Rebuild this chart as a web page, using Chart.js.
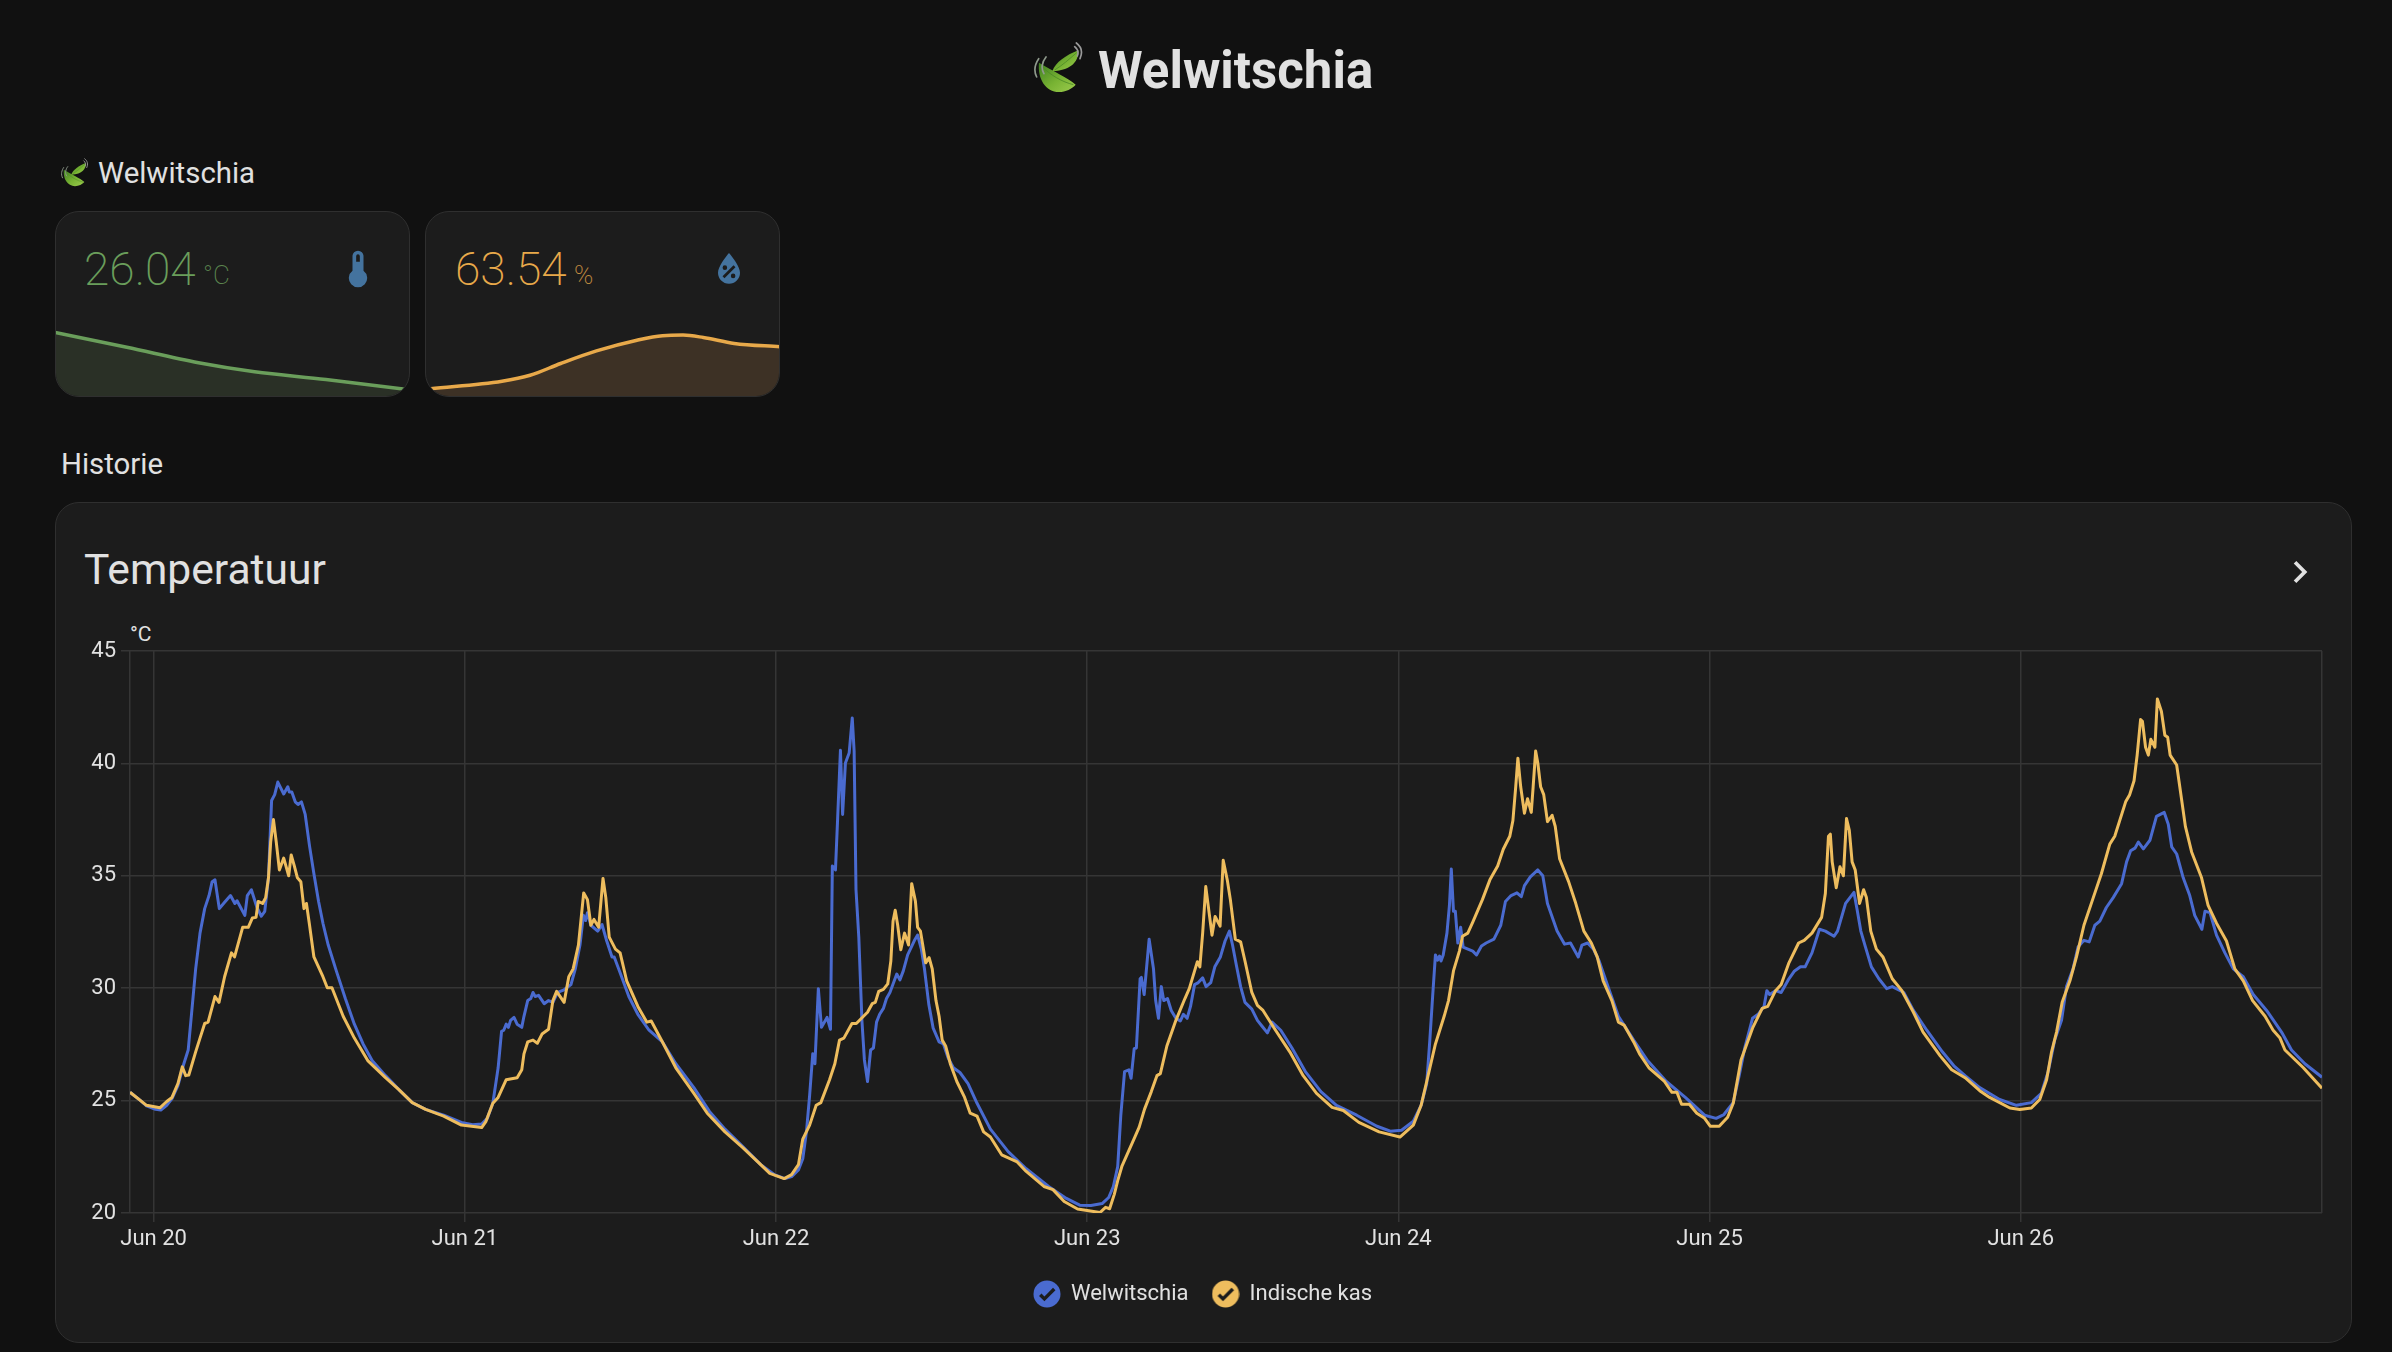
<!DOCTYPE html>
<html>
<head>
<meta charset="utf-8">
<title>Welwitschia</title>
<script src="https://cdn.jsdelivr.net/npm/chart.js@4"></script>
<style>
  html, body { margin: 0; padding: 0; width: 2392px; height: 1352px; overflow: hidden; background: #111111; }
  body { font-family: Roboto, sans-serif; color: #e1e1e1; position: relative; }
  .abs { position: absolute; white-space: nowrap; }
  .card { position: absolute; background: #1c1c1c; border: 1.5px solid #2f2f2f; border-radius: 24px; box-sizing: border-box; overflow: hidden; }
  canvas { display: block; }
</style>
</head>
<body>
<svg width="0" height="0" style="position:absolute">
  <defs>
    <linearGradient id="leafGreen" x1="0" y1="0" x2="1" y2="1">
      <stop offset="0" stop-color="#3f7f22"/>
      <stop offset="0.55" stop-color="#78b333"/>
      <stop offset="1" stop-color="#9ccb4e"/>
    </linearGradient>
    <symbol id="leaves" viewBox="0 0 150 153">
      <path d="M15 62C10 110 35 150 75 150C95 150 115 140 125 128C100 105 60 90 15 62Z" fill="url(#leafGreen)"/>
      <path d="M55 88C65 60 95 40 133 25C135 55 115 85 55 88Z" fill="url(#leafGreen)"/>
      <path d="M22 72C50 100 85 120 118 128M62 84C85 70 105 52 128 32" fill="none" stroke="#4d8a28" stroke-width="2.5"/>
      <path d="M8 105C-2 85 4 65 14 50M30 95C20 80 24 60 36 45" fill="none" stroke="#8f9a8c" stroke-width="5" stroke-linecap="round"/>
      <path d="M127 3C143 15 146 32 138 50M122 14C132 22 134 32 130 42" fill="none" stroke="#9a9a9a" stroke-width="5" stroke-linecap="round"/>
    </symbol>
  </defs>
</svg>

<svg class="abs" style="left:1034px;top:42px" width="50" height="51"><use href="#leaves"/></svg>
<div class="abs" style="left:1098px;top:40.5px;font-size:51px;line-height:60px;font-weight:700">Welwitschia</div>

<svg class="abs" style="left:61px;top:158px" width="28" height="29"><use href="#leaves"/></svg>
<div class="abs" style="left:98px;top:156px;font-size:29.4px;line-height:34px">Welwitschia</div>

<div class="card" style="left:54.5px;top:211px;width:355px;height:186px">
  <canvas id="tempSpark" width="355" height="77" style="position:absolute;left:-1.5px;top:107.5px"></canvas>
</div>
<div class="abs" style="left:84px;top:241px;font-size:46px;line-height:56px;font-weight:200;color:#6a9e5b">26.04</div>
<div class="abs" style="left:203px;top:259px;font-size:26px;line-height:32px;font-weight:200;color:#6a9e5b;opacity:.8">°C</div>
<svg class="abs" style="left:335.5px;top:247px" width="44" height="44" viewBox="0 0 24 24"><path fill="#44739e" d="M15 13V5A3 3 0 0 0 9 5V13A5 5 0 1 0 15 13M12 4A1 1 0 0 1 13 5V8H11V5A1 1 0 0 1 12 4Z"/></svg>

<div class="card" style="left:425px;top:211px;width:355px;height:186px">
  <canvas id="humiditySpark" width="355" height="77" style="position:absolute;left:-1.5px;top:107.5px"></canvas>
</div>
<div class="abs" style="left:455px;top:241px;font-size:46px;line-height:56px;font-weight:200;color:#e8a94a">63.54</div>
<div class="abs" style="left:574px;top:259px;font-size:26px;line-height:32px;font-weight:200;color:#e8a94a;opacity:.8">%</div>
<svg class="abs" style="left:707px;top:247px" width="44" height="44" viewBox="0 0 24 24"><path fill="#44739e" d="M12,3.25C12,3.25 6,10 6,14C6,17.32 8.69,20 12,20A6,6 0 0,0 18,14C18,10 12,3.25 12,3.25M14.47,9.97L15.53,11.03L9.53,17.03L8.47,15.97M9.75,10A1.25,1.25 0 0,1 11,11.25A1.25,1.25 0 0,1 9.75,12.5A1.25,1.25 0 0,1 8.5,11.25A1.25,1.25 0 0,1 9.75,10M14.25,14.5A1.25,1.25 0 0,1 15.5,15.75A1.25,1.25 0 0,1 14.25,17A1.25,1.25 0 0,1 13,15.75A1.25,1.25 0 0,1 14.25,14.5Z"/></svg>

<div class="abs" style="left:61px;top:446.5px;font-size:29.4px;line-height:34px">Historie</div>

<div class="card" style="left:54.5px;top:502px;width:2297.5px;height:841px"></div>
<div class="abs" style="left:84px;top:542.5px;font-size:42.6px;line-height:52px">Temperatuur</div>
<svg class="abs" style="left:2277.5px;top:549.5px" width="44" height="44" viewBox="0 0 24 24"><path fill="#e1e1e1" d="M8.59,16.58L13.17,12L8.59,7.41L10,6L16,12L10,18L8.59,16.58Z"/></svg>
<div class="abs" style="left:130px;top:622px;font-size:21px;line-height:24px">°C</div>

<canvas id="history" class="abs" width="2296" height="743" style="left:55px;top:600px"></canvas>

<script>
// x values are days since Jun 20 00:00
const dayLabels = ["Jun 20", "Jun 21", "Jun 22", "Jun 23", "Jun 24", "Jun 25", "Jun 26"];
const tempTicks = [20, 25, 30, 35, 40, 45];

const welwitschiaDays = [
  -0.076,-0.044,-0.023,0.006,0.023,0.042,0.059,0.078,0.095,0.111,0.121,0.135,0.149,0.164,0.178,0.188,0.197,0.211,0.228,0.247,0.261,0.268,0.293,0.301,0.314,0.332,0.346,0.357,0.369,0.379,0.389,0.399,0.418,0.431,0.436,0.444,0.455,0.464,0.475,0.487,0.501,0.515,0.53,0.544,0.561,0.587,0.616,0.645,0.673,0.702,0.745,0.788,0.831,0.874,0.932,0.989,
  1.025,1.054,1.072,1.09,1.107,1.118,1.125,1.133,1.14,1.147,1.158,1.168,1.183,1.19,1.202,1.212,1.219,1.226,1.237,1.255,1.269,1.283,1.298,1.319,1.341,1.355,1.37,1.381,1.388,1.394,1.405,1.427,1.441,1.456,1.473,1.48,1.499,1.527,1.556,1.592,1.635,1.678,1.736,1.786,1.836,1.894,1.951,1.994,
  2.029,2.05,2.072,2.086,2.098,2.108,2.118,2.125,2.136,2.146,2.164,2.175,2.181,2.191,2.198,2.207,2.214,2.223,2.235,2.245,2.251,2.257,2.266,2.276,2.284,2.294,2.304,2.313,2.323,2.333,2.345,2.355,2.366,2.388,2.398,2.409,2.423,2.445,2.455,2.467,2.477,2.491,2.505,2.524,2.538,2.553,2.57,2.591,2.617,2.646,2.689,2.746,2.804,2.876,2.933,2.976,
  3.012,3.048,3.069,3.084,3.098,3.108,3.12,3.134,3.141,3.151,3.158,3.17,3.174,3.183,3.199,3.213,3.22,3.229,3.238,3.246,3.258,3.27,3.285,3.299,3.309,3.321,3.332,3.345,3.357,3.371,3.382,3.397,3.41,3.428,3.443,3.457,3.467,3.479,3.493,3.507,3.529,3.547,3.562,3.579,3.594,3.622,3.658,3.701,3.751,3.801,3.866,3.931,3.974,
  4.01,4.048,4.073,4.091,4.101,4.11,4.119,4.126,4.132,4.137,4.144,4.156,4.164,4.17,4.177,4.183,4.191,4.2,4.208,4.239,4.251,4.267,4.282,4.307,4.329,4.344,4.362,4.381,4.395,4.405,4.424,4.448,4.464,4.479,4.51,4.534,4.553,4.578,4.59,4.608,4.627,4.645,4.676,4.707,4.756,4.799,4.861,4.922,4.984,
  5.021,5.046,5.076,5.095,5.113,5.138,5.156,5.175,5.184,5.193,5.212,5.23,5.255,5.273,5.292,5.307,5.329,5.353,5.372,5.4,5.411,5.437,5.464,5.474,5.486,5.501,5.52,5.544,5.569,5.587,5.624,5.655,5.698,5.748,5.785,5.821,5.868,5.932,5.986,
  6.034,6.066,6.088,6.109,6.131,6.147,6.168,6.184,6.203,6.22,6.238,6.254,6.275,6.297,6.324,6.34,6.353,6.367,6.378,6.394,6.415,6.436,6.461,6.474,6.485,6.501,6.522,6.543,6.559,6.582,6.592,6.608,6.629,6.656,6.683,6.715,6.747,6.79,6.838,6.87,6.913,6.968
];
const welwitschiaTemps = [
  25.37,25.02,24.77,24.61,24.58,24.79,25.09,25.67,26.55,27.25,28.75,30.86,32.45,33.54,34.12,34.74,34.82,33.54,33.82,34.12,33.77,33.89,33.24,34.12,34.38,33.59,33.2,33.42,34.91,38.35,38.61,39.17,38.64,38.96,38.73,38.73,38.29,38.17,38.29,37.73,36.32,35.09,33.86,32.89,31.92,30.77,29.54,28.4,27.52,26.78,26.11,25.49,24.91,24.61,24.35,24.03,
  23.93,23.96,24.21,24.88,26.46,28.08,28.13,28.4,28.26,28.57,28.7,28.4,28.26,28.75,29.45,29.54,29.81,29.63,29.68,29.31,29.45,29.37,29.81,29.93,30.16,30.86,31.92,33.24,33.01,33.36,32.8,32.54,32.83,32.1,31.39,31.39,30.69,29.63,28.84,28.13,27.61,26.64,25.58,24.52,23.73,22.94,22.15,21.71,
  21.53,21.62,21.92,22.41,23.64,25.23,27.08,26.64,29.98,28.26,28.7,28.17,35.44,35.26,37.55,40.58,37.73,40.02,40.46,42.02,40.55,34.38,32.27,28.57,26.81,25.85,27.25,27.34,28.49,28.84,29.1,29.54,29.81,30.63,30.37,30.77,31.48,32.13,32.36,31.74,30.86,29.28,28.22,27.61,27.52,26.9,26.46,26.25,25.76,24.88,23.73,22.73,21.97,21.18,20.65,20.35,
  20.33,20.42,20.69,21.18,22.06,24.35,26.29,26.37,25.99,27.31,27.34,30.42,30.48,29.72,32.18,30.86,29.45,28.66,30.07,29.45,29.54,29.01,28.66,28.54,28.84,28.66,29.19,30.16,30.25,30.46,30.07,30.25,30.95,31.39,32.1,32.54,31.92,31.04,30.07,29.37,29.07,28.57,28.31,28.01,28.49,28.13,27.34,26.29,25.4,24.79,24.35,23.86,23.64,
  23.68,24.08,24.79,25.76,27.69,29.63,31.48,31.25,31.43,31.21,31.48,32.45,33.68,35.3,33.42,33.42,32.01,32.71,31.83,31.65,31.48,31.88,32.01,32.18,32.8,33.86,34.12,34.24,34.07,34.56,34.95,35.26,35,33.77,32.54,31.96,32.01,31.39,31.92,32.01,31.74,31.21,29.98,28.75,27.69,26.81,25.85,25.14,24.35,
  24.21,24.38,24.91,26.11,27.34,28.66,28.84,29.19,29.89,29.72,29.89,29.81,30.42,30.77,30.95,30.95,31.57,32.62,32.54,32.31,32.54,33.77,34.26,33.5,32.54,31.83,30.95,30.42,29.98,30.07,29.81,29.01,28.13,27.17,26.55,26.11,25.58,25.05,24.79,
  24.91,25.32,26.29,27.69,28.57,30.07,30.86,31.83,32.13,32.06,32.8,32.98,33.59,34.03,34.65,35.62,36.11,36.23,36.5,36.2,36.58,37.64,37.82,37.29,36.29,35.97,34.91,34.12,33.24,32.62,33.42,33.36,32.36,31.57,30.86,30.51,29.72,29.01,28.05,27.25,26.64,26.04
];

const kasDays = [
  -0.076,-0.044,-0.023,0.02,0.042,0.059,0.078,0.092,0.103,0.113,0.135,0.149,0.164,0.175,0.197,0.21,0.228,0.25,0.26,0.286,0.304,0.317,0.329,0.336,0.35,0.36,0.369,0.376,0.385,0.394,0.404,0.418,0.434,0.442,0.452,0.462,0.473,0.483,0.491,0.501,0.515,0.544,0.558,0.573,0.609,0.645,0.688,0.745,0.788,0.831,0.874,0.932,0.989,
  1.054,1.068,1.09,1.107,1.133,1.168,1.183,1.19,1.202,1.219,1.233,1.248,1.269,1.283,1.295,1.319,1.334,1.348,1.365,1.382,1.394,1.405,1.415,1.43,1.444,1.453,1.464,1.484,1.499,1.52,1.556,1.585,1.599,1.635,1.678,1.736,1.779,1.836,1.894,1.944,1.98,
  2.026,2.05,2.072,2.086,2.108,2.129,2.144,2.172,2.189,2.204,2.218,2.244,2.258,2.294,2.309,2.319,2.33,2.345,2.359,2.369,2.376,2.383,2.391,2.401,2.413,2.426,2.436,2.448,2.455,2.464,2.481,2.492,2.502,2.514,2.524,2.534,2.545,2.56,2.581,2.606,2.624,2.646,2.667,2.689,2.725,2.775,2.804,2.861,2.89,2.926,2.969,
  3.041,3.059,3.072,3.087,3.098,3.112,3.153,3.167,3.184,3.206,3.224,3.235,3.256,3.285,3.314,3.328,3.354,3.362,3.371,3.381,3.392,3.401,3.411,3.427,3.437,3.45,3.46,3.476,3.493,3.507,3.529,3.547,3.565,3.601,3.651,3.694,3.737,3.787,3.823,3.873,3.938,
  4.005,4.048,4.073,4.091,4.119,4.147,4.161,4.177,4.196,4.206,4.223,4.239,4.27,4.294,4.319,4.337,4.358,4.368,4.377,4.384,4.393,4.405,4.415,4.427,4.433,4.441,4.448,4.457,4.467,4.479,4.494,4.504,4.518,4.547,4.568,4.596,4.62,4.639,4.658,4.686,4.707,4.725,4.756,4.775,4.805,4.855,4.879,4.895,4.91,4.935,4.959,4.984,
  5.002,5.031,5.058,5.076,5.101,5.138,5.169,5.187,5.212,5.23,5.255,5.286,5.304,5.329,5.36,5.372,5.382,5.388,5.394,5.407,5.419,5.43,5.44,5.449,5.458,5.468,5.482,5.495,5.504,5.518,5.536,5.557,5.587,5.618,5.655,5.686,5.741,5.778,5.821,5.868,5.9,5.965,5.997,
  6.034,6.061,6.083,6.099,6.115,6.133,6.158,6.179,6.203,6.233,6.259,6.286,6.302,6.337,6.35,6.364,6.374,6.385,6.391,6.401,6.41,6.418,6.431,6.439,6.452,6.463,6.472,6.48,6.501,6.511,6.529,6.549,6.581,6.602,6.629,6.661,6.688,6.715,6.745,6.785,6.811,6.833,6.849,6.908,6.968
];
const kasTemps = [
  25.37,25.02,24.79,24.68,24.96,25.14,25.76,26.5,26.11,26.14,27.17,27.78,28.43,28.49,29.63,29.37,30.51,31.57,31.39,32.71,32.71,33.12,33.15,33.86,33.77,34.03,34.91,36.5,37.5,36.5,35.26,35.79,35,35.93,35.44,34.91,34.74,33.54,33.77,32.8,31.39,30.51,30.02,30.02,28.75,27.78,26.78,26.02,25.49,24.91,24.61,24.31,23.91,
  23.8,24.08,24.88,25.14,25.93,26.02,26.37,27.08,27.61,27.69,27.55,27.96,28.17,29.45,29.86,29.37,30.51,30.86,31.92,34.24,33.94,32.8,33.06,32.71,34.88,34.03,32.27,31.74,31.57,30.33,29.19,28.49,28.54,27.61,26.46,25.32,24.44,23.61,22.9,22.24,21.76,
  21.53,21.71,22.15,23.29,23.91,24.79,24.91,25.93,26.64,27.69,27.78,28.43,28.43,28.93,29.31,29.37,29.86,29.95,30.19,31.21,32.98,33.47,32.8,31.71,32.45,31.92,34.65,33.86,32.71,32.54,31.13,31.36,30.86,29.45,28.75,27.69,27.43,26.64,25.85,25.14,24.44,24.31,23.61,23.38,22.59,22.27,21.85,21.18,21.04,20.51,20.18,
  20.02,20.25,20.19,20.83,21.44,22.1,23.38,23.82,24.61,25.4,26.11,26.2,27.43,28.57,29.54,29.98,31.18,30.95,32.45,34.52,33.33,32.36,33.19,32.76,35.69,34.82,33.94,32.18,32.06,31.21,29.81,29.24,29.01,28.22,27.17,26.11,25.32,24.7,24.56,24.03,23.61,
  23.38,23.91,24.79,25.85,27.52,28.75,29.45,30.77,31.65,32.31,32.45,32.94,33.94,34.82,35.44,36.18,36.76,37.46,38.96,40.23,38.96,37.78,38.43,37.82,38.96,40.55,40.02,38.96,38.61,37.41,37.69,37.2,35.76,34.74,33.86,32.54,32.01,31.39,30.33,29.45,28.49,28.36,27.61,27.08,26.46,25.85,25.37,25.37,24.84,24.84,24.44,24.21,
  23.86,23.86,24.26,24.88,26.81,28.22,29.1,29.19,29.89,30.16,31.13,32.01,32.13,32.45,33.15,34.21,36.76,36.85,35.62,34.47,35.4,35,37.55,37.02,35.62,35.26,33.77,34.38,34.03,32.54,31.74,31.39,30.42,29.89,28.93,28.05,26.99,26.37,26.02,25.44,25.14,24.67,24.6,
  24.67,25.05,25.93,27.17,28.05,29.37,30.33,31.39,32.8,34.03,35.09,36.41,36.76,38.29,38.61,39.23,40.37,41.95,41.87,40.72,40.37,41.07,40.72,42.87,42.31,41.25,41.16,40.37,39.93,38.96,37.2,36.06,34.91,33.68,32.89,32.1,30.86,30.33,29.45,28.75,28.13,27.78,27.25,26.46,25.55
];

// last 24h sparklines, x runs 0..1 over the card width
const tempSparkX = [0, 0.205, 0.407, 0.565, 0.766, 0.989];
const tempSparkValues = [29.0, 28.22, 27.42, 26.95, 26.55, 26.04];
const humiditySparkX = [0.016, 0.217, 0.296, 0.382, 0.483, 0.597, 0.669, 0.727, 0.784, 0.871, 1];
const humiditySparkValues = [47.9, 50.7, 52.9, 57.3, 62, 66, 67.7, 67.9, 67, 64.8, 63.54];

const BLUE = "#4a6bd0";
const YELLOW = "#eebd5e";
const GRID = "#353535";
const TEXT = "#e1e1e1";

Chart.defaults.animation = false;
Chart.defaults.font.family = "Roboto, sans-serif";

function zip(xs, ys) {
  return xs.map((x, i) => ({ x: x, y: ys[i] }));
}

// round legend marker with a check in it
function checkMarker(color) {
  const c = document.createElement("canvas");
  c.width = 28;
  c.height = 28;
  const g = c.getContext("2d");
  g.fillStyle = color;
  g.beginPath();
  g.arc(14, 14, 13.5, 0, Math.PI * 2);
  g.fill();
  g.translate(3.6, 3.6);
  g.scale(0.87, 0.87);
  g.fillStyle = "#1c1c1c";
  g.fill(new Path2D("M9,20.42L2.79,14.21L5.62,11.38L9,14.77L18.88,4.88L21.71,7.71L9,20.42Z"));
  return c;
}

function spark(id, xs, ys, yMin, yMax, line, fill) {
  new Chart(document.getElementById(id), {
    type: "line",
    data: {
      datasets: [{
        data: zip(xs, ys),
        borderColor: line,
        backgroundColor: fill,
        borderWidth: 3.5,
        fill: "start",
        pointRadius: 0,
        cubicInterpolationMode: "monotone",
      }],
    },
    options: {
      responsive: false,
      events: [],
      layout: { padding: 0 },
      plugins: { legend: { display: false }, tooltip: { enabled: false } },
      scales: {
        x: { type: "linear", min: 0, max: 1, display: false },
        y: { min: yMin, max: yMax, display: false },
      },
    },
  });
}

spark("tempSpark", tempSparkX, tempSparkValues, 25.64, 29.64, "#6a9e5b", "#2a3026");
spark("humiditySpark", humiditySparkX, humiditySparkValues, 44.79, 73.54, "#e8a94a", "#3d3125");

const xMin = welwitschiaDays[0];
const xMax = welwitschiaDays[welwitschiaDays.length - 1];

new Chart(document.getElementById("history"), {
  type: "line",
  data: {
    datasets: [
      {
        label: "Welwitschia",
        data: zip(welwitschiaDays, welwitschiaTemps),
        borderColor: BLUE,
        pointStyle: checkMarker(BLUE),
        order: 2,
      },
      {
        // lower order draws last, so the kas line lies over the blue one
        label: "Indische kas",
        data: zip(kasDays, kasTemps),
        borderColor: YELLOW,
        pointStyle: checkMarker(YELLOW),
        order: 1,
      },
    ],
  },
  options: {
    responsive: false,
    events: [],
    elements: {
      line: { borderWidth: 3, borderJoinStyle: "round", tension: 0 },
      point: { radius: 0 },
    },
    layout: { padding: { top: 51, bottom: 28 } },
    plugins: {
      tooltip: { enabled: false },
      legend: {
        position: "bottom",
        labels: {
          color: TEXT,
          font: { size: 22 },
          usePointStyle: true,
          pointStyleWidth: 26,
          padding: 24,
          // dataset order would flip the entries otherwise
          sort: (a, b) => a.datasetIndex - b.datasetIndex,
        },
      },
    },
    scales: {
      x: {
        type: "linear",
        min: xMin,
        max: xMax,
        afterBuildTicks: (axis) => {
          // bounds stay in so the frame lines get drawn, they just carry no label
          axis.ticks = [xMin, ...dayLabels.map((_, i) => i), xMax].map((v) => ({ value: v }));
        },
        afterFit: (axis) => {
          axis.height = 46;
          // keeps the legend centred on the card while the plot stops short of its right edge
          axis.paddingRight = 29;
        },
        border: { display: false },
        grid: {
          color: GRID,
          lineWidth: 1.5,
          tickLength: 9,
          tickColor: (ctx) => (dayLabels[ctx.tick && ctx.tick.value] ? GRID : "transparent"),
        },
        ticks: {
          color: TEXT,
          font: { size: 22 },
          padding: 4,
          maxRotation: 0,
          autoSkip: false,
          callback: (v) => dayLabels[v] || "",
        },
      },
      y: {
        min: tempTicks[0],
        max: tempTicks[tempTicks.length - 1],
        afterBuildTicks: (axis) => { axis.ticks = tempTicks.map((v) => ({ value: v })); },
        afterFit: (axis) => { axis.width = 75; },
        border: { display: false },
        grid: { color: GRID, lineWidth: 1.5, tickLength: 9 },
        ticks: { color: TEXT, font: { size: 22 }, padding: 5 },
      },
    },
  },
});
</script>
</body>
</html>
